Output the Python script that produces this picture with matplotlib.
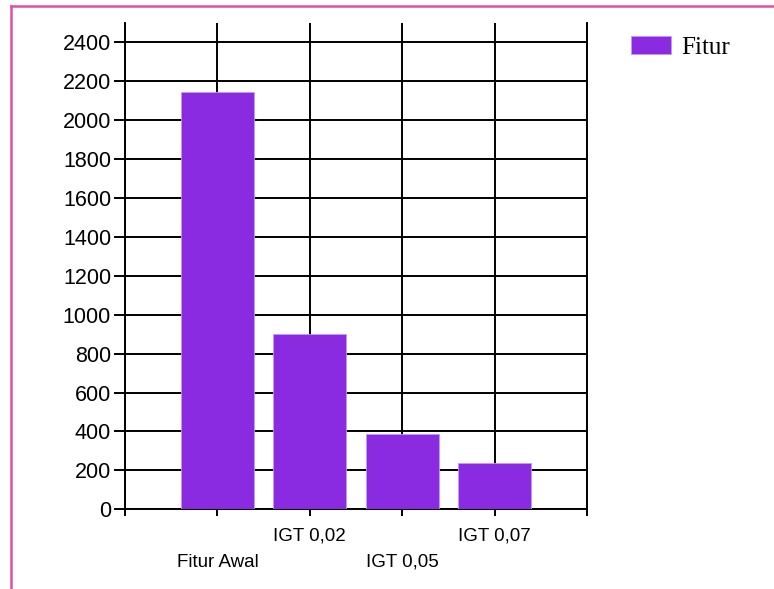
import matplotlib
matplotlib.use('Agg')
import matplotlib.pyplot as plt
from matplotlib.lines import Line2D

# chart data
categories = ['Fitur Awal', 'IGT 0,02', 'IGT 0,05', 'IGT 0,07']
jumlah_fitur = [2146, 900, 388, 238]
series_name = 'Fitur'
y_ticks = list(range(0, 2401, 200))

bar_color = '#8a2be2'
edge_color = '#c29af0'
border_color = '#df4fa8'

W, H = 774, 589
fig = plt.figure(figsize=(W / 100, H / 100), dpi=100)
fig.patch.set_facecolor('white')

# axes placed in pixel terms from the reference
ax = fig.add_axes([125 / W, 1 - 509.3 / H, (587 - 125) / W, (509.3 - 22.9) / H])

positions = list(range(1, len(categories) + 1))
ax.bar(positions, jumlah_fitur, width=0.79, color=bar_color,
       edgecolor=edge_color, linewidth=0.6, label=series_name, zorder=3)

ax.set_xlim(0, len(categories) + 1)
ax.set_ylim(0, 2500)

# grid lines in black, drawn behind the bars
ax.set_yticks(y_ticks)
ax.set_xticks(range(0, len(categories) + 2))
ax.set_xticklabels([''] + categories + [''])
ax.grid(True, color='black', linewidth=1.4, zorder=0)
ax.set_axisbelow(True)

for side in ['left', 'bottom', 'right']:
    ax.spines[side].set_linewidth(1.4)
    ax.spines[side].set_color('black')
ax.spines['top'].set_visible(False)

ax.tick_params(axis='y', direction='out', length=8, width=1.4, pad=2,
               labelsize=15.5, colors='black')
ax.tick_params(axis='x', direction='out', length=5, width=1.4,
               labelsize=13.5, colors='black')
for lab in ax.get_yticklabels() + ax.get_xticklabels():
    lab.set_fontfamily('Liberation Sans')

# staggered category labels, as in the reference
for i, tick in enumerate(ax.xaxis.get_major_ticks()):
    if i in (1, 3):
        tick.set_pad(27)
    else:
        tick.set_pad(8)

ax.legend(loc='upper left', bbox_to_anchor=(631 / W, 1 - 36 / H),
          bbox_transform=fig.transFigure, frameon=False, borderpad=0,
          borderaxespad=0, handlelength=1.6, handleheight=0.72,
          handletextpad=0.4, prop={'family': 'Liberation Serif', 'size': 18})

# pink frame around the chart area (left and top edges visible)
fig.add_artist(Line2D([11 / W, 11 / W], [0, 1 - 6 / H], transform=fig.transFigure,
                      color=border_color, linewidth=1.8))
fig.add_artist(Line2D([11 / W, 1], [1 - 6 / H, 1 - 6 / H], transform=fig.transFigure,
                      color=border_color, linewidth=1.8))

plt.savefig('out.png', dpi=100)
plt.close('all')
